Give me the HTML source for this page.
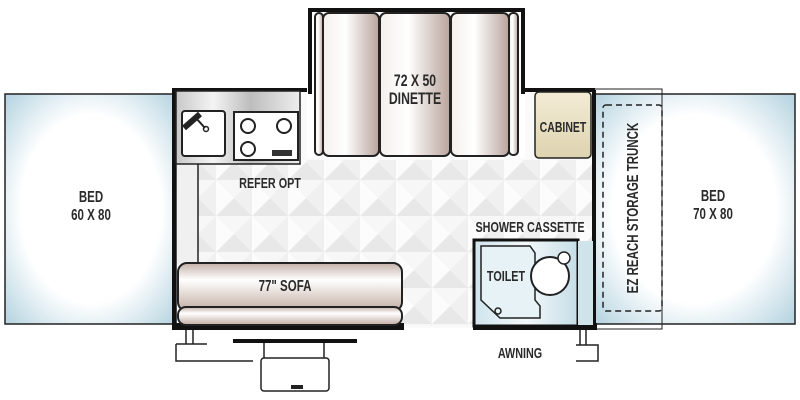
<!DOCTYPE html>
<html><head><meta charset="utf-8"><style>
html,body{margin:0;padding:0;background:#fff;width:800px;height:400px;overflow:hidden}
text{font-family:"Liberation Sans",sans-serif;font-weight:bold;fill:#2a2a2a;text-anchor:middle}
</style></head><body>
<svg width="800" height="400" viewBox="0 0 800 400" xmlns="http://www.w3.org/2000/svg">
<defs>
<radialGradient id="bed" cx="50%" cy="50%" r="68%">
<stop offset="0.6" stop-color="#ffffff"/><stop offset="1" stop-color="#b9d6e2"/></radialGradient>
<linearGradient id="cush" x1="0" x2="1"><stop offset="0" stop-color="#f4efec"/><stop offset="0.4" stop-color="#ffffff"/><stop offset="1" stop-color="#b9a49c"/></linearGradient>
<linearGradient id="sofa" x1="0" y1="0" x2="0" y2="1"><stop offset="0" stop-color="#c5b1a8"/><stop offset="0.35" stop-color="#ffffff"/><stop offset="1" stop-color="#c2aca2"/></linearGradient>
<linearGradient id="steel" x1="0" x2="1"><stop offset="0" stop-color="#c8c8c8"/><stop offset="0.3" stop-color="#f4f4f4"/><stop offset="0.6" stop-color="#bdbdbd"/><stop offset="1" stop-color="#eeeeee"/></linearGradient>
<linearGradient id="cab" x1="0" y1="0" x2="0" y2="1"><stop offset="0" stop-color="#f3ecd5"/><stop offset="1" stop-color="#ddd3b0"/></linearGradient>
<linearGradient id="bath" x1="0" x2="1"><stop offset="0" stop-color="#cfe4ec"/><stop offset="0.5" stop-color="#f4f9fb"/><stop offset="1" stop-color="#c5dde6"/></linearGradient>
<pattern id="dia" width="36" height="36" patternUnits="userSpaceOnUse">
<rect width="36" height="36" fill="#f7f7f7"/>
<path d="M0 36 L18 18 L36 36Z" fill="#e8e8e8"/><path d="M18 18 L36 0 L36 36Z" fill="#f0f0f0"/>
<path d="M0 0 L18 18 L0 36Z" fill="#fcfcfc"/>
</pattern>
</defs>

<!-- left bed -->
<rect x="5" y="94" width="172" height="230" fill="url(#bed)" stroke="#222" stroke-width="1.5"/>
<g transform="translate(91,202) scale(0.72,1)"><text font-size="16">BED</text></g>
<g transform="translate(91,220) scale(0.72,1)"><text font-size="16">60 X 80</text></g>

<!-- right bed -->
<rect x="594" y="94" width="201" height="230" fill="url(#bed)" stroke="#222" stroke-width="1.5"/>
<rect x="594" y="89" width="68" height="240" fill="none" stroke="#222" stroke-width="1"/>
<rect x="603" y="105" width="59" height="206" rx="3" fill="none" stroke="#222" stroke-width="1.5" stroke-dasharray="6,4"/>
<g transform="translate(638,208) rotate(-90) scale(0.72,1)"><text font-size="16" y="0">EZ REACH STORAGE TRUNCK</text></g>
<g transform="translate(713,201) scale(0.72,1)"><text font-size="16">BED</text></g>
<g transform="translate(713,219) scale(0.72,1)"><text font-size="16">70 X 80</text></g>

<!-- main floor -->
<rect x="177" y="90" width="418" height="238" fill="#fafafa"/>
<rect x="198" y="160" width="394" height="166" fill="url(#dia)"/>
<rect x="177" y="164" width="21" height="100" fill="#f0f0f0"/>
<line x1="198" y1="164" x2="198" y2="264" stroke="#222" stroke-width="1.5"/>
<path d="M174 326 V90 H308" fill="none" stroke="#111" stroke-width="4"/>
<path d="M524 90 H595" fill="none" stroke="#111" stroke-width="4"/>
<rect x="592" y="90" width="4" height="238" fill="#111"/>
<rect x="172" y="323" width="232" height="7" fill="#111"/>
<rect x="473" y="323" width="124" height="7" fill="#111"/>

<!-- kitchen -->
<rect x="176" y="91" width="124" height="73" fill="url(#steel)" stroke="#222" stroke-width="1.5"/>
<rect x="182" y="111" width="43" height="45" rx="3" fill="#fff" stroke="#222" stroke-width="2"/>
<path d="M184 128 L200 114" stroke="#222" stroke-width="6"/>
<line x1="196" y1="118" x2="205" y2="128" stroke="#222" stroke-width="2"/>
<circle cx="206" cy="129" r="2.5" fill="none" stroke="#222" stroke-width="1.5"/>
<rect x="234" y="112" width="64" height="48" fill="#fff" stroke="#222" stroke-width="2"/>
<circle cx="248" cy="126" r="7" fill="none" stroke="#222" stroke-width="2"/>
<circle cx="284" cy="126" r="7" fill="none" stroke="#222" stroke-width="2"/>
<circle cx="248" cy="149" r="7" fill="none" stroke="#222" stroke-width="2"/>
<rect x="272" y="150" width="20" height="6" fill="#333"/>
<g transform="translate(270,188) scale(0.72,1)"><text font-size="15">REFER OPT</text></g>

<!-- dinette -->
<rect x="307" y="8" width="218" height="150" fill="#fff"/>
<path d="M310 94 V10 H523 V94" fill="none" stroke="#111" stroke-width="4"/>
<rect x="315" y="13" width="8" height="142" rx="4" fill="url(#cush)" stroke="#222" stroke-width="2"/>
<rect x="323" y="13" width="56" height="143" rx="6" fill="url(#cush)" stroke="#222" stroke-width="2"/>
<rect x="380" y="13" width="70" height="143" rx="6" fill="url(#cush)" stroke="#222" stroke-width="2"/>
<rect x="451" y="13" width="58" height="143" rx="6" fill="url(#cush)" stroke="#222" stroke-width="2"/>
<rect x="509" y="13" width="9" height="142" rx="4" fill="url(#cush)" stroke="#222" stroke-width="2"/>
<g transform="translate(415,86) scale(0.72,1)"><text font-size="17">72 X 50</text></g>
<g transform="translate(415,104) scale(0.72,1)"><text font-size="17">DINETTE</text></g>

<!-- cabinet -->
<rect x="535" y="92" width="56" height="66" rx="4" fill="url(#cab)" stroke="#222" stroke-width="1.5"/>
<g transform="translate(563,132) scale(0.7,1)"><text font-size="15">CABINET</text></g>

<!-- sofa -->
<rect x="178" y="263" width="224" height="48" rx="9" fill="url(#sofa)" stroke="#222" stroke-width="2"/>
<rect x="178" y="307" width="224" height="18" rx="8" fill="url(#sofa)" stroke="#222" stroke-width="2"/>
<g transform="translate(285,291) scale(0.72,1)"><text font-size="16">77" SOFA</text></g>

<!-- bathroom -->
<g transform="translate(530,232) scale(0.72,1)"><text font-size="15">SHOWER CASSETTE</text></g>
<rect x="474" y="240" width="104" height="86" fill="url(#bath)" stroke="#111" stroke-width="3"/>
<rect x="578" y="241" width="15" height="84" fill="#cfe3ea"/>
<path d="M481 246 H530 L535 253 V300 L540 306 V318 H500 L481 300Z" fill="#e6f2f6" stroke="#222" stroke-width="1.5"/>
<circle cx="550" cy="276" r="19" fill="#fff" stroke="#222" stroke-width="2"/>
<circle cx="564" cy="258" r="6" fill="#fff" stroke="#222" stroke-width="1.5"/>
<circle cx="498" cy="311" r="3" fill="none" stroke="#222" stroke-width="1.5"/>
<g transform="translate(506,281) scale(0.72,1)"><text font-size="15">TOILET</text></g>

<!-- exterior -->
<g transform="translate(520,358) scale(0.72,1)"><text font-size="15">AWNING</text></g>
<path d="M186 330 V344 M193 330 V344 M176 344 H207 M176 344 V361 H253" fill="none" stroke="#222" stroke-width="1.5"/>
<rect x="233" y="339" width="124" height="4" fill="#111"/>
<path d="M264 343 V358 M324 343 V358" stroke="#222" stroke-width="1.5"/>
<rect x="261" y="358" width="68" height="33" rx="3" fill="none" stroke="#222" stroke-width="1.5"/>
<rect x="291" y="385" width="12" height="4" fill="#222"/>
<path d="M580 330 V345 M586 330 V345 M576 345 H598 V361 H576" fill="none" stroke="#222" stroke-width="1.5"/>
</svg>
</body></html>
